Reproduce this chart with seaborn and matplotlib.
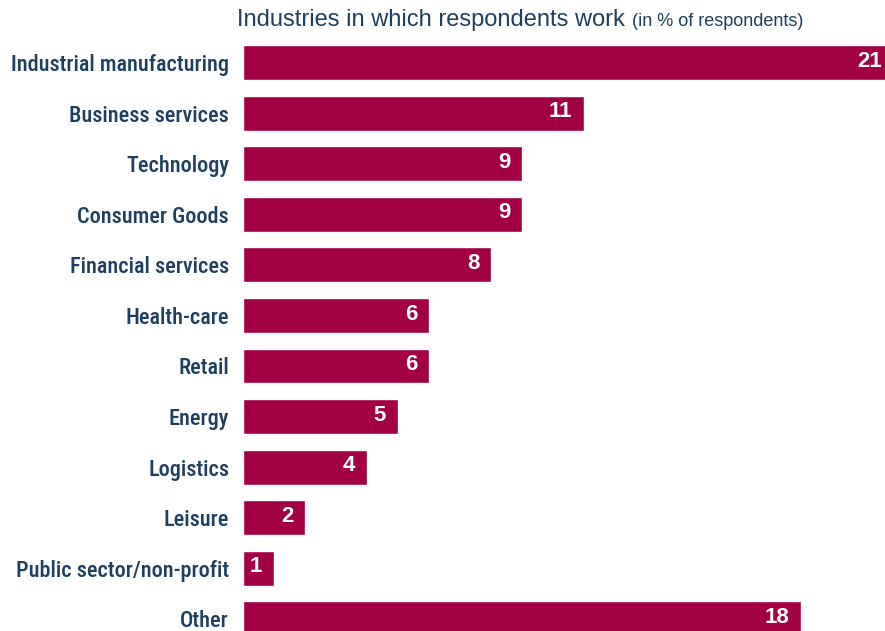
import matplotlib
matplotlib.use("Agg")
import matplotlib.pyplot as plt
import seaborn as sns
import pandas as pd

industries = [
    "Industrial manufacturing",
    "Business services",
    "Technology",
    "Consumer Goods",
    "Financial services",
    "Health-care",
    "Retail",
    "Energy",
    "Logistics",
    "Leisure",
    "Public sector/non-profit",
    "Other",
]
shares = [21, 11, 9, 9, 8, 6, 6, 5, 4, 2, 1, 18]

BAR = "#A30044"
TEXT = "#1E3F5F"
CONDENSED = ["Roboto Condensed", "Liberation Sans Narrow", "Liberation Sans", "DejaVu Sans"]
REGULAR = ["Liberation Sans", "DejaVu Sans"]

sns.set_theme(style="white")
plt.rcParams["font.family"] = CONDENSED

df = pd.DataFrame({"industry": industries, "share": shares})

fig = plt.figure(figsize=(8.85, 6.31), dpi=100)
W, H = 885, 631
pitch = 50.58
top_center = 62.5
y_top = -0.345
y_bot = (H - top_center) / pitch
ax_top_px = top_center + y_top * pitch
ax = fig.add_axes([243 / W, 0, 1 - 243 / W, (H - ax_top_px) / H])

sns.barplot(data=df, x="share", y="industry", orient="h", color=BAR,
            saturation=1, width=0.69, ax=ax)

# the top bar runs past the right edge of the figure
ax.set_xlim(0, 20.71)
ax.set_ylim(y_bot, y_top)
ax.set_xlabel("")
ax.set_ylabel("")
ax.set_xticks([])
ax.tick_params(axis="y", length=0, pad=10, labelsize=16, labelcolor=TEXT)
for lbl in ax.get_yticklabels():
    lbl.set_fontweight("medium")
for spine in ax.spines.values():
    spine.set_visible(False)

for i, v in enumerate(shares):
    ax.annotate(str(v), xy=(v, i), xytext=(-8.5, 1), textcoords="offset points",
                ha="right", va="center", color="white", fontsize=16,
                fontweight="bold", family=REGULAR, annotation_clip=False)

fig.text(237 / W, 1 - 20 / H, "Industries in which respondents work",
         ha="left", va="center", fontsize=17, color=TEXT, family=REGULAR)
fig.text(632 / W, 1 - 21 / H, "(in % of respondents)",
         ha="left", va="center", fontsize=13, color=TEXT, family=REGULAR)

fig.savefig("out.png", dpi=100)
